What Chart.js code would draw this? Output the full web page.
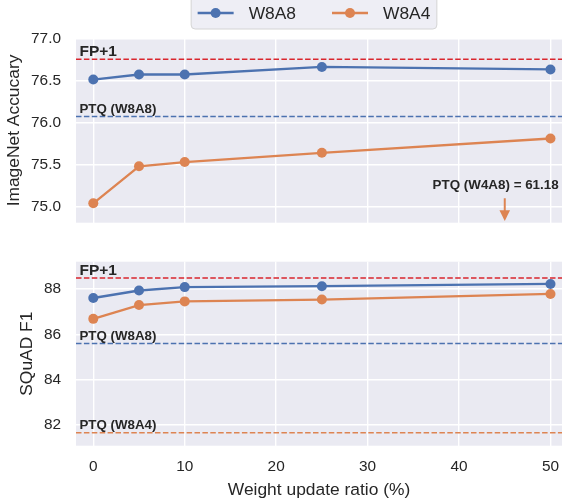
<!DOCTYPE html>
<html>
<head>
<meta charset="utf-8">
<script src="https://cdn.jsdelivr.net/npm/chart.js@4.4.0/dist/chart.umd.min.js"></script>
<style>
  html, body { margin: 0; padding: 0; background: #fff; overflow: hidden; width: 562px; height: 503px; }
  .panel { position: absolute; left: 0; width: 562px; }
  #topWrap { top: 0; height: 240px; }
  #botWrap { top: 240px; height: 263px; }
</style>
</head>
<body>
<div id="topWrap" class="panel"><canvas id="topChart"></canvas></div>
<div id="botWrap" class="panel"><canvas id="botChart"></canvas></div>
<script>
// data
const ratios = [0, 5, 10, 25, 50];
const seriesNames = ['W8A8', 'W8A4'];
const imagenetW8A8 = [76.51, 76.57, 76.57, 76.66, 76.63];
const imagenetW8A4 = [75.04, 75.48, 75.53, 75.64, 75.81];
const squadW8A8 = [87.60, 87.93, 88.08, 88.12, 88.22];
const squadW8A4 = [86.68, 87.29, 87.45, 87.53, 87.78];

// reference lines
const imagenetRefLabels = ['FP+1', 'PTQ (W8A8)'];
const imagenetRefValues = [76.75, 76.07];
const squadRefLabels = ['FP+1', 'PTQ (W8A8)', 'PTQ (W8A4)'];
const squadRefValues = [88.48, 85.60, 81.66];

// off-scale note in the top panel
const ptqW4A8Text = 'PTQ (W4A8) = 61.18';
const ptqW4A8TextAt = [44, 75.21];
const ptqW4A8Arrow = [45, 75.10, 74.83];

// ticks
const xTicks = [0, 10, 20, 30, 40, 50];
const imagenetTicks = [75.0, 75.5, 76.0, 76.5, 77.0];
const squadTicks = [82, 84, 86, 88];

const X_MIN = -1.89, X_MAX = 51.26;
const BLUE = '#4c72b0', ORANGE = '#dd8452', RED = '#d9262e';
const INK = '#262626';
const FONT = '"Liberation Sans", Arial, sans-serif';

Chart.defaults.font.family = FONT;
Chart.defaults.color = INK;

const pts = ys => ratios.map((x, i) => ({ x: x, y: ys[i] }));
const flat = v => [{ x: X_MIN, y: v }, { x: X_MAX, y: v }];

function seriesSet(label, ys, color) {
  return {
    label: label, data: pts(ys), inLegend: true,
    borderColor: color, backgroundColor: color,
    borderWidth: 2.3, pointRadius: 5, pointHoverRadius: 5,
    pointBorderWidth: 0, pointBackgroundColor: color, tension: 0
  };
}

function refSet(label, v, color) {
  return {
    label: label, data: flat(v), refLabel: label,
    borderColor: color, borderWidth: 1.5, borderDash: [5.5, 2.4],
    pointRadius: 0, pointHoverRadius: 0
  };
}

const bgPlugin = {
  id: 'axesBg',
  beforeDraw(chart) {
    const a = chart.chartArea, ctx = chart.ctx;
    ctx.save();
    ctx.fillStyle = '#eaeaf2';
    ctx.fillRect(a.left, a.top, a.right - a.left, a.bottom - a.top);
    ctx.restore();
  }
};

// bold labels sitting just above each dashed reference line
const refTextPlugin = {
  id: 'refText',
  afterDatasetsDraw(chart) {
    const ctx = chart.ctx, y = chart.scales.y, a = chart.chartArea;
    ctx.save();
    ctx.fillStyle = INK;
    ctx.textAlign = 'left';
    ctx.textBaseline = 'alphabetic';
    chart.data.datasets.forEach(ds => {
      if (!ds.refLabel) return;
      const big = ds.refLabel === 'FP+1';
      ctx.font = 'bold ' + (big ? 15.5 : 13.3) + 'px ' + FONT;
      ctx.fillText(ds.refLabel, a.left + 3.5, y.getPixelForValue(ds.data[0].y) - 3.5);
    });
    ctx.restore();
  }
};

const notePlugin = {
  id: 'ptqNote',
  afterDatasetsDraw(chart) {
    const ctx = chart.ctx, sx = chart.scales.x, sy = chart.scales.y;
    ctx.save();
    ctx.fillStyle = INK;
    ctx.font = 'bold 13.4px ' + FONT;
    ctx.textAlign = 'center';
    ctx.fillText(ptqW4A8Text, sx.getPixelForValue(ptqW4A8TextAt[0]), sy.getPixelForValue(ptqW4A8TextAt[1]));
    const ax = sx.getPixelForValue(ptqW4A8Arrow[0]);
    const y0 = sy.getPixelForValue(ptqW4A8Arrow[1]);
    const tip = sy.getPixelForValue(ptqW4A8Arrow[2]);
    const head = 10.7;
    ctx.strokeStyle = ORANGE;
    ctx.fillStyle = ORANGE;
    ctx.lineWidth = 2;
    ctx.beginPath();
    ctx.moveTo(ax, y0);
    ctx.lineTo(ax, tip - head + 1);
    ctx.stroke();
    ctx.beginPath();
    ctx.moveTo(ax - 5.3, tip - head);
    ctx.lineTo(ax + 5.3, tip - head);
    ctx.lineTo(ax, tip);
    ctx.closePath();
    ctx.fill();
    ctx.restore();
  }
};

const legendPlugin = {
  id: 'boxLegend',
  afterDraw(chart, args, opts) {
    const ctx = chart.ctx;
    const items = chart.data.datasets.filter(d => d.inLegend);
    const sample = 36, gapText = 15, gapItem = 36, pad = 6.5, cy = 13;
    ctx.save();
    ctx.font = '17.4px ' + FONT;
    const widths = items.map(d => ctx.measureText(d.label).width);
    let total = pad * 2 + gapItem * (items.length - 1);
    widths.forEach(w => { total += sample + gapText + w; });
    const x0 = opts.centerX - total / 2;
    ctx.beginPath();
    ctx.roundRect(x0, -5, total, 34, 4);
    ctx.fillStyle = '#eeeef5';
    ctx.fill();
    ctx.strokeStyle = '#d4d4d4';
    ctx.lineWidth = 1;
    ctx.stroke();
    let x = x0 + pad;
    items.forEach((d, i) => {
      ctx.strokeStyle = d.borderColor;
      ctx.lineWidth = 2.3;
      ctx.beginPath();
      ctx.moveTo(x, cy);
      ctx.lineTo(x + sample, cy);
      ctx.stroke();
      ctx.fillStyle = d.borderColor;
      ctx.beginPath();
      ctx.arc(x + sample / 2, cy, 5, 0, Math.PI * 2);
      ctx.fill();
      ctx.fillStyle = INK;
      ctx.textBaseline = 'middle';
      ctx.textAlign = 'left';
      ctx.fillText(d.label, x + sample + gapText, cy + 1);
      x += sample + gapText + widths[i] + gapItem;
    });
    ctx.restore();
  }
};

function makePanel(id, cfg) {
  return new Chart(document.getElementById(id), {
    type: 'line',
    data: { datasets: cfg.datasets },
    options: {
      responsive: true,
      maintainAspectRatio: false,
      animation: false,
      events: [],
      layout: { autoPadding: false, padding: { top: cfg.padTop, left: 0, right: 0, bottom: 0 } },
      plugins: {
        legend: { display: false },
        tooltip: { enabled: false },
        boxLegend: { centerX: 314 }
      },
      scales: {
        x: {
          type: 'linear', min: X_MIN, max: X_MAX,
          border: { display: false },
          // tick gap done with an invisible tick mark so ticks.padding does not eat into the plot area
          grid: { color: '#ffffff', lineWidth: 1.4, drawTicks: true, tickLength: 12, tickColor: 'rgba(0,0,0,0)' },
          afterBuildTicks: s => { s.ticks = xTicks.map(v => ({ value: v })); },
          afterFit: s => { s.height = cfg.xHeight; s.paddingLeft = 0; s.paddingRight = 0; },
          ticks: { display: cfg.showX, padding: 0, font: { size: 15.4 }, color: INK },
          title: {
            display: cfg.showX, text: 'Weight update ratio (%)',
            font: { size: 17.4 }, color: INK, padding: { top: 0, bottom: 2.8 }
          }
        },
        y: {
          type: 'linear', min: cfg.yMin, max: cfg.yMax,
          border: { display: false },
          grid: { color: '#ffffff', lineWidth: 1.4, drawTicks: true, tickLength: 15, tickColor: 'rgba(0,0,0,0)' },
          afterBuildTicks: s => { s.ticks = cfg.yTicks.map(v => ({ value: v })); },
          afterFit: s => { s.width = 76; s.paddingTop = 0; s.paddingBottom = 0; },
          ticks: { padding: 0, font: { size: 15.4 }, color: INK, callback: cfg.fmt },
          title: {
            display: true, text: cfg.yTitle,
            font: { size: 17.4 }, color: INK, padding: { top: cfg.titlePad, bottom: 0 }
          }
        }
      }
    },
    plugins: cfg.plugins
  });
}

makePanel('topChart', {
  datasets: [
    refSet(imagenetRefLabels[0], imagenetRefValues[0], RED),
    refSet(imagenetRefLabels[1], imagenetRefValues[1], BLUE),
    seriesSet(seriesNames[0], imagenetW8A8, BLUE),
    seriesSet(seriesNames[1], imagenetW8A4, ORANGE)
  ],
  padTop: 38.3, xHeight: 17.3, showX: false,
  yMin: 74.81, yMax: 77.0, yTicks: imagenetTicks,
  fmt: v => Number(v).toFixed(1),
  yTitle: 'ImageNet Accucary', titlePad: 3.5,
  plugins: [bgPlugin, refTextPlugin, notePlugin, legendPlugin]
});

makePanel('botChart', {
  datasets: [
    refSet(squadRefLabels[0], squadRefValues[0], RED),
    refSet(squadRefLabels[1], squadRefValues[1], BLUE),
    refSet(squadRefLabels[2], squadRefValues[2], ORANGE),
    seriesSet(seriesNames[0], squadW8A8, BLUE),
    seriesSet(seriesNames[1], squadW8A4, ORANGE)
  ],
  padTop: 21.7, xHeight: 57.3, showX: true,
  yMin: 81.09, yMax: 89.2, yTicks: squadTicks,
  fmt: v => String(v),
  yTitle: 'SQuAD F1', titlePad: 16.5,
  plugins: [bgPlugin, refTextPlugin]
});
</script>
</body>
</html>
